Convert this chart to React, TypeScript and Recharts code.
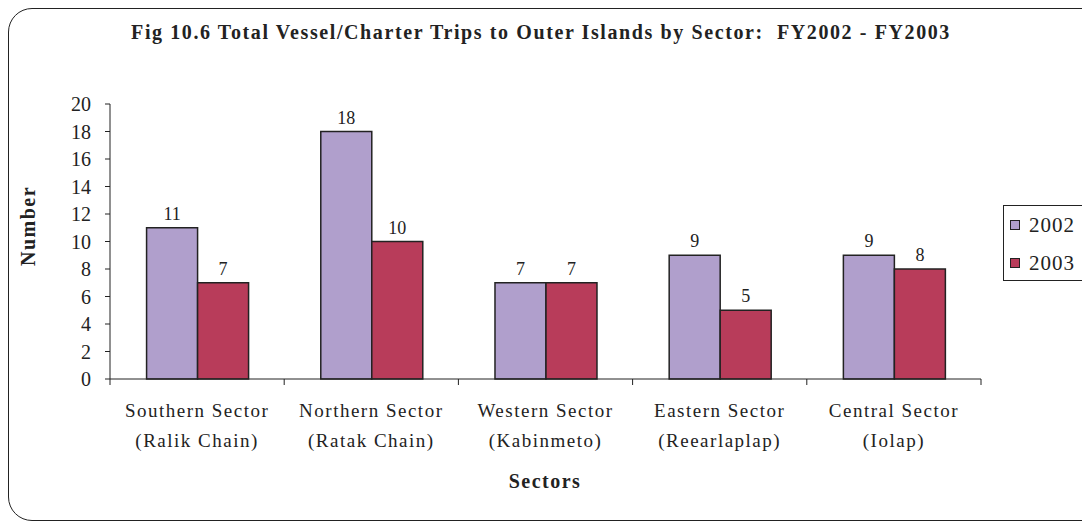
import { Bar, BarChart, LabelList, XAxis, YAxis } from 'recharts'

const sectors = ['Southern Sector', 'Northern Sector', 'Western Sector', 'Eastern Sector', 'Central Sector']
const chains = ['(Ralik Chain)', '(Ratak Chain)', '(Kabinmeto)', '(Reearlaplap)', '(Iolap)']
const trips2002 = [11, 18, 7, 9, 9]
const trips2003 = [7, 10, 7, 5, 8]
const yTicks = [0, 2, 4, 6, 8, 10, 12, 14, 16, 18, 20]

const data = sectors.map((sector, i) => ({ sector, chain: chains[i], fy2002: trips2002[i], fy2003: trips2003[i] }))

const FONT = '"Liberation Serif", "Times New Roman", serif'
const INK = '#222'
const PURPLE = '#B09FCC'
const CRIMSON = '#B83C5A'

function SectorTick({ x, y, payload, index, width, visibleTicksCount }: any) {
  const band = width && visibleTicksCount ? width / visibleTicksCount : 174.2
  const row = data[index] ?? { chain: '' }
  const left = x - band / 2
  const right = x + band / 2
  return (
    <g>
      <line x1={left} x2={left} y1={y} y2={y + 6} stroke={INK} />
      {index === data.length - 1 && <line x1={right} x2={right} y1={y} y2={y + 6} stroke={INK} />}
      <text x={x} y={y + 38} textAnchor="middle" fill={INK} fontFamily={FONT} fontSize={19} style={{ letterSpacing: 1.5 }}>
        {payload.value}
      </text>
      <text x={x} y={y + 68} textAnchor="middle" fill={INK} fontFamily={FONT} fontSize={19} style={{ letterSpacing: 1.5 }}>
        {row.chain}
      </text>
    </g>
  )
}

function LegendBox() {
  const items = [
    { label: '2002', color: PURPLE },
    { label: '2003', color: CRIMSON },
  ]
  return (
    <div style={{ position: 'absolute', left: 1003, top: 205, border: `1px solid ${INK}`, width: 100, height: 76, boxSizing: 'border-box', paddingTop: 0 }}>
      {items.map((it) => (
        <div key={it.label} style={{ display: 'flex', alignItems: 'center', height: 38, fontFamily: FONT, fontSize: 21, letterSpacing: 1, color: INK }}>
          <span style={{ display: 'inline-block', width: 8, height: 8, border: `1.5px solid ${INK}`, background: it.color, marginLeft: 6, marginRight: 9 }} />
          {it.label}
        </div>
      ))}
    </div>
  )
}

export default function App() {
  return (
    <div style={{ position: 'absolute', left: 0, top: 0, width: 1082, height: 523, overflow: 'hidden', background: '#fff' }}>
      <div style={{ position: 'absolute', left: 8, top: 8, width: 1110, height: 511, border: `1.5px solid ${INK}`, borderRadius: 24 }} />
      <div style={{ position: 'absolute', left: 0, top: 21, width: 1082, textAlign: 'center', fontFamily: FONT, fontWeight: 'bold', fontSize: 20, letterSpacing: 1.6, color: INK }}>
        Fig 10.6 Total Vessel/Charter Trips to Outer Islands by Sector:&nbsp; FY2002 - FY2003
      </div>
      <div style={{ position: 'absolute', left: 28, top: 226, transform: 'translate(-50%, -50%) rotate(-90deg)', fontFamily: FONT, fontWeight: 'bold', fontSize: 20, letterSpacing: 1.5, color: INK, whiteSpace: 'nowrap' }}>
        Number
      </div>
      <div style={{ position: 'absolute', left: 0, top: 470, width: 1090, textAlign: 'center', fontFamily: FONT, fontWeight: 'bold', fontSize: 20, letterSpacing: 1.5, color: INK }}>
        Sectors
      </div>
      <div style={{ position: 'absolute', left: 0, top: 0 }}>
        <BarChart width={1082} height={523} data={data} margin={{ top: 104, right: 101, bottom: 24, left: 50 }} barCategoryGap="21%" barGap={0}>
          <XAxis dataKey="sector" stroke={INK} tickLine={false} tickSize={0} tickMargin={0} height={120} interval={0} tick={<SectorTick />} />
          <YAxis domain={[0, 20]} ticks={yTicks} width={60} stroke={INK} tickSize={5} tickMargin={14} interval={0} tick={{ fill: INK, fontSize: 20, fontFamily: FONT }} />
          <Bar dataKey="fy2002" name="2002" fill={PURPLE} stroke={INK} strokeWidth={1.5} isAnimationActive={false}>
            <LabelList dataKey="fy2002" position="top" offset={8} fill={INK} fontFamily={FONT} fontSize={18} />
          </Bar>
          <Bar dataKey="fy2003" name="2003" fill={CRIMSON} stroke={INK} strokeWidth={1.5} isAnimationActive={false}>
            <LabelList dataKey="fy2003" position="top" offset={8} fill={INK} fontFamily={FONT} fontSize={18} />
          </Bar>
        </BarChart>
      </div>
      <LegendBox />
    </div>
  )
}
